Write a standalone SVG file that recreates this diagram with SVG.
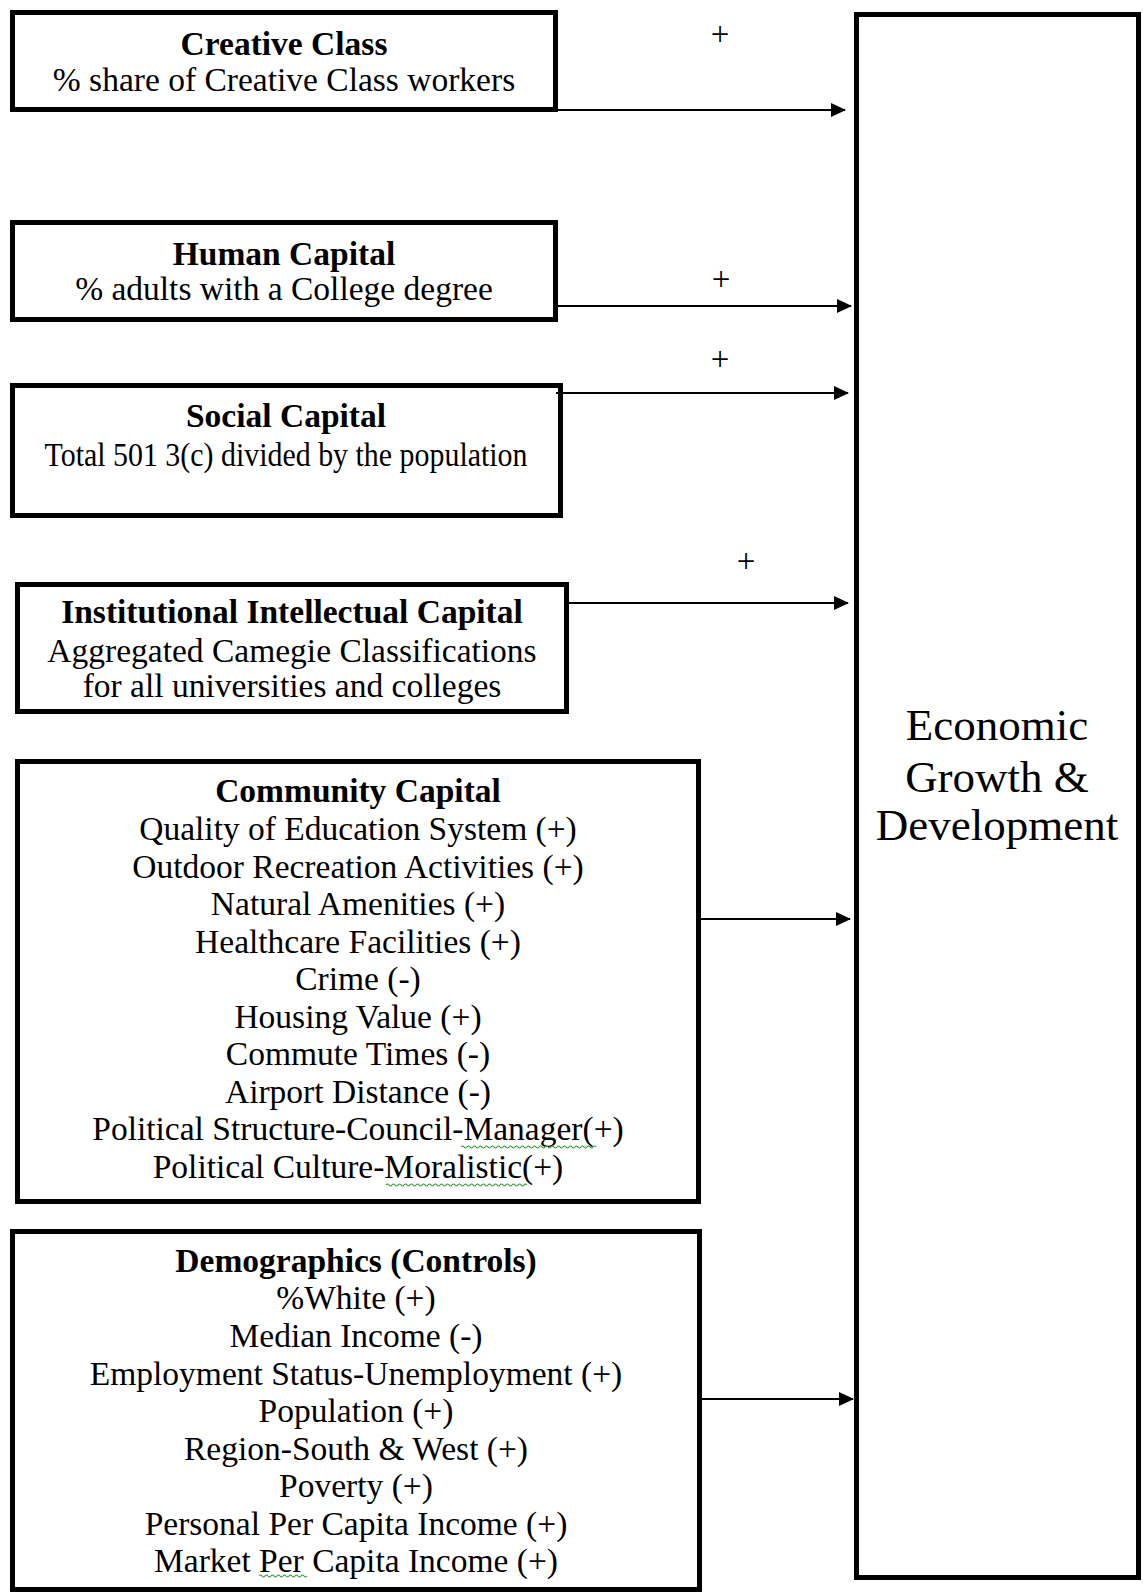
<svg xmlns="http://www.w3.org/2000/svg" width="1144" height="1594" viewBox="0 0 1144 1594">
<style>
.box{fill:#fff;stroke:#000;stroke-width:5}
.t{font-family:"Liberation Serif","Times New Roman",serif;font-size:33.5px;fill:#000;text-anchor:middle}
.b{font-weight:bold}
.big{font-size:45px}
.plus{font-family:"Liberation Serif","Times New Roman",serif;font-size:33px;fill:#000;text-anchor:middle}
.edge{stroke:#000;stroke-width:2;fill:none;marker-end:url(#ah)}
.sq{stroke:#3a9a3a;stroke-width:1.2;fill:none}
</style>
<defs>
<marker id="ah" markerUnits="userSpaceOnUse" markerWidth="15" markerHeight="14" refX="14" refY="7" orient="auto">
<path d="M0,0 L15,7 L0,14 z" fill="#000"/>
</marker>
</defs>
<rect width="1144" height="1594" fill="#fff"/>
<g id="creative-class">
<rect class="box" x="12.5" y="12.5" width="543" height="97"/>
<text class="t b" x="284" y="55">Creative Class</text>
<text class="t" x="284" y="91">% share of Creative Class workers</text>
</g>
<g id="human-capital">
<rect class="box" x="12.5" y="222.5" width="543" height="97"/>
<text class="t b" x="284" y="265">Human Capital</text>
<text class="t" x="284" y="300">% adults with a College degree</text>
</g>
<g id="social-capital">
<rect class="box" x="12.5" y="385.5" width="548" height="130"/>
<text class="t b" x="286" y="427">Social Capital</text>
<text class="t" x="286" y="466" textLength="483" lengthAdjust="spacingAndGlyphs">Total 501 3(c) divided by the population</text>
</g>
<g id="institutional-intellectual-capital">
<rect class="box" x="17.5" y="584.5" width="549" height="127"/>
<text class="t b" x="292" y="623">Institutional Intellectual Capital</text>
<text class="t" x="292" y="662">Aggregated Camegie Classifications</text>
<text class="t" x="292" y="697">for all universities and colleges</text>
</g>
<g id="community-capital">
<rect class="box" x="17.5" y="761.5" width="681" height="440"/>
<text class="t b" x="358" y="802">Community Capital</text>
<text class="t" x="358" y="840">Quality of Education System (+)</text>
<text class="t" x="358" y="878">Outdoor Recreation Activities (+)</text>
<text class="t" x="358" y="915">Natural Amenities (+)</text>
<text class="t" x="358" y="953">Healthcare Facilities (+)</text>
<text class="t" x="358" y="990">Crime (-)</text>
<text class="t" x="358" y="1028">Housing Value (+)</text>
<text class="t" x="358" y="1065">Commute Times (-)</text>
<text class="t" x="358" y="1103">Airport Distance (-)</text>
<text class="t" x="358" y="1140">Political Structure-Council-Manager(+)</text>
<text class="t" x="358" y="1178">Political Culture-Moralistic(+)</text>
<path class="sq" d="M461,1147 q1.5,-2 3,0 t3,0 t3,0 t3,0 t3,0 t3,0 t3,0 t3,0 t3,0 t3,0 t3,0 t3,0 t3,0 t3,0 t3,0 t3,0 t3,0 t3,0 t3,0 t3,0 t3,0 t3,0 t3,0 t3,0 t3,0 t3,0 t3,0 t3,0 t3,0 t3,0 t3,0 t3,0 t3,0 t3,0 t3,0 t3,0 t3,0 t3,0 t3,0 t3,0 t3,0 t3,0 t3,0 t3,0 t3,0"/>
<path class="sq" d="M386,1185 q1.5,-2 3,0 t3,0 t3,0 t3,0 t3,0 t3,0 t3,0 t3,0 t3,0 t3,0 t3,0 t3,0 t3,0 t3,0 t3,0 t3,0 t3,0 t3,0 t3,0 t3,0 t3,0 t3,0 t3,0 t3,0 t3,0 t3,0 t3,0 t3,0 t3,0 t3,0 t3,0 t3,0 t3,0 t3,0 t3,0 t3,0 t3,0 t3,0 t3,0 t3,0 t3,0 t3,0 t3,0 t3,0 t3,0 t3,0 t3,0"/>
</g>
<g id="demographics-controls">
<rect class="box" x="12.5" y="1231.5" width="687" height="358"/>
<text class="t b" x="356" y="1272">Demographics (Controls)</text>
<text class="t" x="356" y="1309">%White (+)</text>
<text class="t" x="356" y="1347">Median Income (-)</text>
<text class="t" x="356" y="1385">Employment Status-Unemployment (+)</text>
<text class="t" x="356" y="1422">Population (+)</text>
<text class="t" x="356" y="1460">Region-South &amp; West (+)</text>
<text class="t" x="356" y="1497">Poverty (+)</text>
<text class="t" x="356" y="1535">Personal Per Capita Income (+)</text>
<text class="t" x="356" y="1572">Market Per Capita Income (+)</text>
<path class="sq" d="M259,1576 q1.5,-2 3,0 t3,0 t3,0 t3,0 t3,0 t3,0 t3,0 t3,0 t3,0 t3,0 t3,0 t3,0 t3,0 t3,0 t3,0 t3,0"/>
</g>
<g id="economic-growth-development">
<rect class="box" x="856.5" y="14.5" width="282" height="1563"/>
<text class="t big" x="997" y="740">Economic</text>
<text class="t big" x="997" y="792">Growth &amp;</text>
<text class="t big" x="997" y="840">Development</text>
</g>
<g id="connectors">
<line class="edge" x1="558" y1="110" x2="845" y2="110"/>
<line class="edge" x1="558" y1="306" x2="851" y2="306"/>
<line class="edge" x1="556" y1="393" x2="848" y2="393"/>
<line class="edge" x1="569" y1="603" x2="848" y2="603"/>
<line class="edge" x1="701" y1="919" x2="850" y2="919"/>
<line class="edge" x1="702" y1="1399" x2="853" y2="1399" stroke="#808080" stroke-width="3"/>
<text class="plus" x="720" y="45">+</text>
<text class="plus" x="721" y="290">+</text>
<text class="plus" x="720" y="370">+</text>
<text class="plus" x="746" y="572">+</text>
</g>
</svg>
